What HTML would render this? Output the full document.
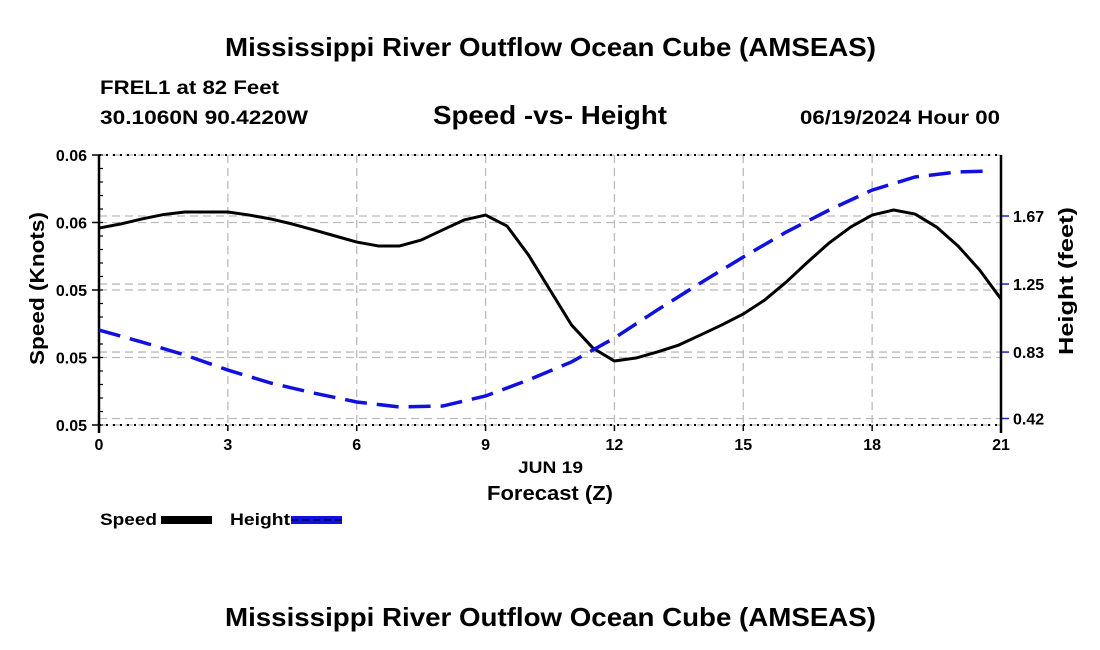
<!DOCTYPE html>
<html><head><meta charset="utf-8"><style>
body{margin:0;background:#fff;}
svg{display:block;font-family:"Liberation Sans",Arial,sans-serif;font-weight:bold;}
</style></head><body>
<svg id="chart" width="1100" height="650" viewBox="0 0 1100 650">
<text x="225" y="56" font-size="26" textLength="651" lengthAdjust="spacingAndGlyphs">Mississippi River Outflow Ocean Cube (AMSEAS)</text>
<text x="100" y="94" font-size="19" textLength="179" lengthAdjust="spacingAndGlyphs">FREL1 at 82 Feet</text>
<text x="100" y="124" font-size="19" textLength="208" lengthAdjust="spacingAndGlyphs">30.1060N  90.4220W</text>
<text x="433" y="124" font-size="26" textLength="234" lengthAdjust="spacingAndGlyphs">Speed -vs- Height</text>
<text x="800" y="124" font-size="19" textLength="200" lengthAdjust="spacingAndGlyphs">06/19/2024 Hour 00</text>
<g id="grid"></g>
<g id="axes"></g>
<g id="series"></g>
<text x="518" y="473" font-size="17" textLength="65" lengthAdjust="spacingAndGlyphs">JUN 19</text>
<text x="487" y="500" font-size="20" textLength="126" lengthAdjust="spacingAndGlyphs">Forecast (Z)</text>
<text transform="translate(44,365) rotate(-90)" font-size="20" textLength="153" lengthAdjust="spacingAndGlyphs">Speed (Knots)</text>
<text transform="translate(1073,355) rotate(-90)" font-size="20" textLength="148" lengthAdjust="spacingAndGlyphs">Height (feet)</text>
<g>
<text x="100" y="525" font-size="17" textLength="57" lengthAdjust="spacingAndGlyphs">Speed</text>
<rect x="161" y="516" width="51" height="8" fill="#000"/>
</g>
<g>
<text x="230" y="525" font-size="17" textLength="60" lengthAdjust="spacingAndGlyphs">Height</text>
<rect x="291" y="516" width="51" height="8" fill="#1010e0"/>
<line x1="291" y1="520" x2="342" y2="520" stroke="#000050" stroke-width="1.5" stroke-dasharray="7,4"/>
</g>
<text x="225" y="626" font-size="26" textLength="651" lengthAdjust="spacingAndGlyphs">Mississippi River Outflow Ocean Cube (AMSEAS)</text>
</svg>
<script>
const speedHours=[0,0.5,1,1.5,2,2.5,3,3.5,4,4.5,5,5.5,6,6.5,7,7.5,8,8.5,9,9.5,10,10.5,11,11.5,12,12.5,13,13.5,14,14.5,15,15.5,16,16.5,17,17.5,18,18.5,19,19.5,20,20.5,21];
const speedValues=[0.05817,0.05841,0.05871,0.05897,0.05912,0.05912,0.05912,0.05894,0.05871,0.05841,0.05806,0.0577,0.05734,0.05711,0.05711,0.05746,0.05806,0.05865,0.05894,0.05829,0.05657,0.0545,0.05243,0.05106,0.05029,0.05047,0.05083,0.05124,0.05183,0.05243,0.05308,0.05391,0.05497,0.05616,0.05729,0.05823,0.05894,0.05924,0.059,0.05823,0.05711,0.05569,0.05397];
const heightHours=[0,1,2,3,4,5,6,7,8,9,10,11,12,13,14,15,16,17,18,19,20,20.8];
const heightValues=[0.966,0.892,0.812,0.719,0.639,0.577,0.522,0.491,0.497,0.559,0.658,0.769,0.917,1.09,1.256,1.417,1.571,1.707,1.83,1.911,1.942,1.948];
const xTicks=[0,3,6,9,12,15,18,21];
const speedTicks=[0.0625,0.0585,0.0545,0.0505,0.0465];
const heightTicks=[1.67,1.25,0.83,0.42];

const L=99,R=1001,T=155,B=425;
const SMIN=0.0465,SMAX=0.0625;
const HREF1=0.42,HREF1Y=418.5,HREF2=1.67,HREF2Y=216;
const x=h=>L+(h/21)*(R-L);
const ys=v=>B-(v-SMIN)/(SMAX-SMIN)*(B-T);
const yh=v=>HREF1Y+(v-HREF1)*(HREF2Y-HREF1Y)/(HREF2-HREF1);
const NS="http://www.w3.org/2000/svg";
function mk(parent,tag,attrs){const e=document.createElementNS(NS,tag);for(const k in attrs)e.setAttribute(k,attrs[k]);document.getElementById(parent).appendChild(e);return e;}

xTicks.forEach(t=>{
  const g=mk('grid','line',{x1:x(t),x2:x(t),y1:T,y2:B,stroke:'#bbb','stroke-width':1.3,'stroke-dasharray':'8,5'});
  
  
  const tk=mk('axes','line',{x1:x(t),x2:x(t),y1:B,y2:B+6,stroke:'#000','stroke-width':1.5});
  
  
  const lb=mk('axes','text',{x:x(t),y:B+25,'text-anchor':'middle','font-size':16});
  lb.textContent=t;
  
  
});
speedTicks.forEach(t=>{
  const g=mk('grid','line',{x1:L,x2:R,y1:ys(t),y2:ys(t),stroke:'#bbb','stroke-width':1.3,'stroke-dasharray':'8,5'});
  
  
  const tk=mk('axes','line',{x1:L-7,x2:L,y1:ys(t),y2:ys(t),stroke:'#000','stroke-width':1.5});
  
  
  const lb=mk('axes','text',{x:L-12,y:ys(t)+6,'text-anchor':'end','font-size':16});
  lb.textContent=t.toFixed(2);
  
  
});
for(let v=SMIN;v<=SMAX+1e-9;v+=0.0008){
  const m=mk('axes','line',{x1:L,x2:L+4,y1:ys(v),y2:ys(v),stroke:'#000','stroke-width':1.2});
  
  
}
heightTicks.forEach(t=>{
  const g=mk('grid','line',{x1:L,x2:R,y1:yh(t),y2:yh(t),stroke:'#bbb','stroke-width':1.3,'stroke-dasharray':'8,5'});
  
  
  const tk=mk('axes','line',{x1:R,x2:R+8,y1:yh(t),y2:yh(t),stroke:'#2020d0','stroke-width':1.5});
  
  
  const lb=mk('axes','text',{x:R+12,y:yh(t)+6,'font-size':16});
  lb.textContent=t.toFixed(2);
  
  
});
[T,B].forEach(yy=>{
  const d=mk('axes','line',{x1:L,x2:R,y1:yy,y2:yy,stroke:'#000','stroke-width':2,'stroke-dasharray':'2,5'});
  
  
});
const la=mk('axes','line',{x1:L,x2:L,y1:T,y2:B+8,stroke:'#000','stroke-width':2.5});


const ra=mk('axes','line',{x1:R,x2:R,y1:T,y2:B+8,stroke:'#000','stroke-width':2.5});



const sp=mk('series','polyline',{points:speedHours.map((h,i)=>x(h)+','+ys(speedValues[i])).join(' '),fill:'none',stroke:'#000','stroke-width':3,'stroke-linejoin':'round'});


const hp=mk('series','polyline',{points:heightHours.map((h,i)=>x(h)+','+yh(heightValues[i])).join(' '),fill:'none',stroke:'#1010e0','stroke-width':3.5,'stroke-dasharray':'22,10'});


</script>
</body></html>
